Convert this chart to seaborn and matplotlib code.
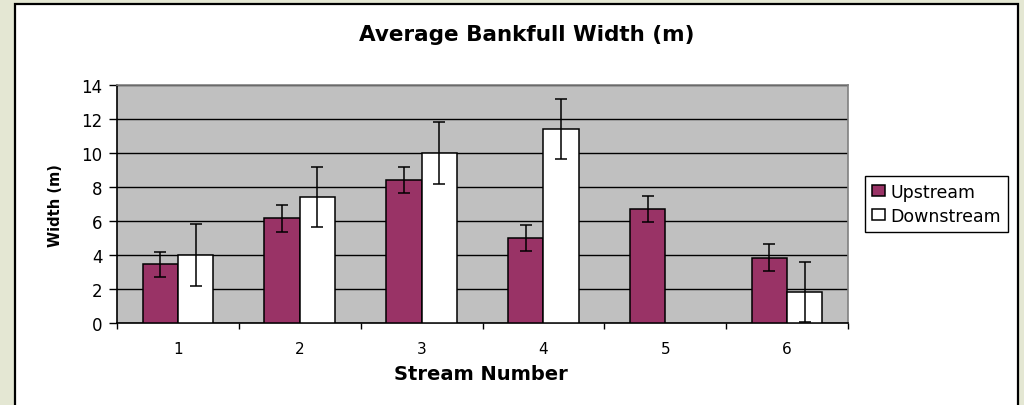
import numpy as np
import pandas as pd
import matplotlib
matplotlib.use("Agg")
import matplotlib.pyplot as plt
from matplotlib.patches import Rectangle
import seaborn as sns

# -----------------------------
# Data
# -----------------------------
streams = ["1", "2", "3", "4", "5", "6"]
upstream = [3.45, 6.15, 8.4, 5.0, 6.7, 3.85]
downstream = [4.0, 7.4, 10.0, 11.4, np.nan, 1.8]
upstream_err = [0.75, 0.78, 0.77, 0.77, 0.78, 0.78]
downstream_err = [1.82, 1.78, 1.81, 1.77, np.nan, 1.77]
series = ["Upstream", "Downstream"]

df = pd.DataFrame({
    "Stream": streams * 2,
    "Width": upstream + downstream,
    "Err": upstream_err + downstream_err,
    "Series": [series[0]] * 6 + [series[1]] * 6,
})

# -----------------------------
# Style
# -----------------------------
sns.set_theme(style="white")
plt.rcParams["font.family"] = ["DejaVu Sans"]
for key in ["text.color", "axes.labelcolor", "xtick.color", "ytick.color"]:
    plt.rcParams[key] = "black"

W, H = 1024, 406
fig = plt.figure(figsize=(W / 100, H / 100), dpi=100)
fig.patch.set_facecolor("#E4E7D3")

# white chart frame
fig.patches.append(Rectangle((15 / W, -0.05), (1018 - 15) / W, 1.05 - 5 / H,
                             transform=fig.transFigure, facecolor="white",
                             edgecolor="black", lw=1.6, zorder=-5))

ax = fig.add_axes([117 / W, 1 - 324 / H, (848 - 117) / W, (324 - 86) / H])
ax.set_zorder(2)
ax.set_facecolor("#C0C0C0")

sns.barplot(
    data=df, x="Stream", y="Width", hue="Series",
    order=streams, hue_order=series,
    palette={"Upstream": "#993366", "Downstream": "white"},
    saturation=1, edgecolor="black", linewidth=1.1, width=0.58,
    errorbar=None, ax=ax, zorder=3,
)

# error bars, matched to each drawn bar
for container, name in zip(ax.containers, series):
    sub = df[df["Series"] == name].dropna(subset=["Width"])
    for bar in container:
        if np.isnan(bar.get_height()):
            continue
        cx = bar.get_x() + bar.get_width() / 2
        idx = int(round(cx))
        row = sub[sub["Stream"] == streams[idx]]
        if row.empty:
            continue
        ax.errorbar(cx, row["Width"].iloc[0], yerr=row["Err"].iloc[0],
                    fmt="none", ecolor="black", elinewidth=1.1,
                    capsize=4.5, capthick=1.1, zorder=4)

# -----------------------------
# Axes
# -----------------------------
ax.set_ylim(0, 14)
ax.set_xlim(-0.5, 5.5)
ax.set_yticks(range(0, 15, 2))
ax.yaxis.grid(True, color="black", lw=1.0, zorder=1)
ax.set_axisbelow(True)

ax.set_xticks(np.arange(-0.5, 6, 1), minor=False)
ax.set_xticklabels([""] * 7)
ax.set_xticks(range(6), minor=True)
ax.set_xticklabels(streams, minor=True, fontsize=11)
ax.tick_params(axis="x", which="major", direction="out", length=4.5,
               width=1, color="black", bottom=True)
ax.tick_params(axis="x", which="minor", length=0, pad=13)
ax.tick_params(axis="y", direction="out", length=5.5, width=1, color="black",
               left=True, labelsize=12, pad=5)

for side in ["top", "right"]:
    ax.spines[side].set_visible(True)
    ax.spines[side].set_color("#808080")
    ax.spines[side].set_linewidth(1.2)
for side in ["left", "bottom"]:
    ax.spines[side].set_color("black")
    ax.spines[side].set_linewidth(1.2)

ax.set_xlabel("Stream Number", fontsize=14, fontweight="bold")
ax.xaxis.set_label_coords((481 - 117) / (848 - 117), (324 - 365) / (324 - 86))
ax.set_ylabel("Width (m)", fontsize=10.5, fontweight="bold")
ax.yaxis.label.set_va("center")
ax.yaxis.set_label_coords((56 - 117) / (848 - 117), (324 - 206) / (324 - 86))

fig.text(527 / W, 1 - 35 / H, "Average Bankfull Width (m)", ha="center",
         va="center", fontsize=15.5, fontweight="bold")

# -----------------------------
# Legend
# -----------------------------
leg = ax.legend(loc="upper left", bbox_to_anchor=((865 - 117) / (848 - 117),
                (324 - 177) / (324 - 86)),
                frameon=True, fancybox=False, framealpha=1, edgecolor="black",
                fontsize=12.5, handlelength=0.75, handleheight=0.6,
                handletextpad=0.3, borderpad=0.4, labelspacing=0.35,
                borderaxespad=0)
leg.get_frame().set_linewidth(1.0)

fig.savefig("out.png", dpi=100, facecolor=fig.get_facecolor())
